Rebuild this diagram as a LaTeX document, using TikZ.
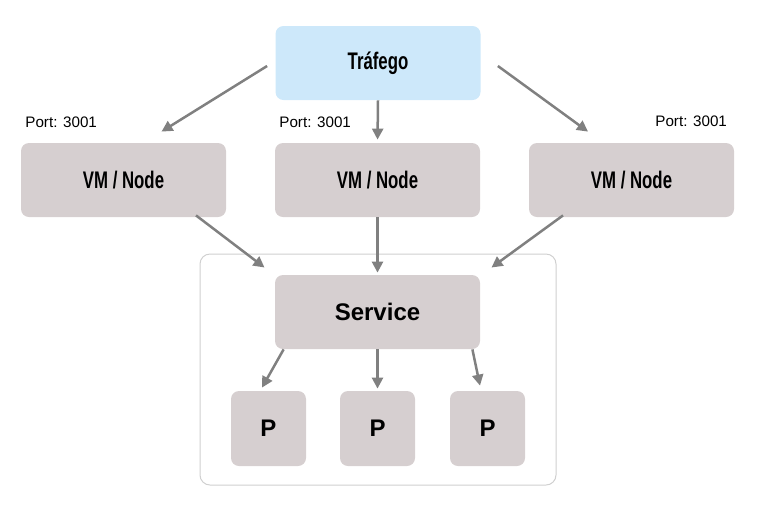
\documentclass[tikz,border=0pt]{standalone}
\usepackage{fontspec}
\setmainfont{Liberation Sans}
\newfontfamily\condfont{Liberation Sans}[FakeStretch=0.7]
\usetikzlibrary{arrows.meta,backgrounds}
\definecolor{boxG}{RGB}{214,207,208}
\definecolor{boxB}{RGB}{205,232,250}
\definecolor{lineG}{RGB}{128,128,128}
\definecolor{frameG}{RGB}{208,208,208}

\begin{document}
\begin{tikzpicture}[>={Triangle[length=5.5pt,width=5.5pt]},x=0.5pt,y=-0.5pt,
  vmbox/.style={fill=boxG,rounded corners=4pt,minimum width=102.5pt,minimum height=37pt,font=\condfont\bfseries\fontsize{12}{14}\selectfont},
  pod/.style={fill=boxG,rounded corners=4pt,minimum size=37.5pt,font=\bfseries\fontsize{12}{14}\selectfont},
  port/.style={font=\fontsize{7.6}{9}\selectfont,anchor=base west,inner sep=0pt},
  link/.style={->,draw=lineG,line width=1.25pt}]
\useasboundingbox (0,0) rectangle (765,527);
\node[vmbox,fill=boxB] (traf) at (378,63) {Tráfego};
\node[vmbox] (vm1) at (123.5,180) {VM / Node}; \node[vmbox] (vm2) at (377.5,180) {VM / Node}; \node[vmbox] (vm3) at (631.5,180) {VM / Node};
\node[port] (pt1) at (25,127) {Port: 3001}; \node[port] (pt2) at (279,127) {Port: 3001}; \node[port] (pt3) at (655,126) {Port: 3001};
\node[vmbox,font=\bfseries\fontsize{12}{14}\selectfont] (svc) at (377.5,312) {Service};
\node[pod] (p1) at (268.5,428.5) {P}; \node[pod] (p2) at (377.5,428.5) {P}; \node[pod] (p3) at (487.5,428.5) {P};
\begin{scope}[on background layer]\node[draw=frameG,line width=0.5pt,rounded corners=5pt,minimum width=178pt,minimum height=115.5pt] (pool) at (378,369.5) {};\end{scope}
% traffic to the nodes
\draw[link] ([shift={(-8,3)}]traf.west) -- ([shift={(38,-11)}]vm1.north);
\draw[link,shorten >=1.5pt] (traf.south) -- (vm2.north);
\draw[link] ([shift={(17,3)}]traf.east) -- ([shift={(-43.5,-11)}]vm3.north);
% nodes to the service
\draw[link] ([shift={(72.5,-2)}]vm1.south) -- ([shift={(65,14)}]pool.north west);
\draw[link,shorten >=1pt] (vm2.south) -- (svc.north);
\draw[link] ([shift={(-68.5,-2)}]vm3.south) -- ([shift={(-65,14)}]pool.north east);
% service to the pods
\draw[link] ([shift={(9,0)}]svc.south west) -- ([shift={(-6.5,-3)}]p1.north);
\draw[link,shorten >=1pt] (svc.south) -- (p2.north);
\draw[link] ([shift={(-8,0)}]svc.south east) -- ([shift={(-7.5,-5)}]p3.north);
\end{tikzpicture}
\end{document}
